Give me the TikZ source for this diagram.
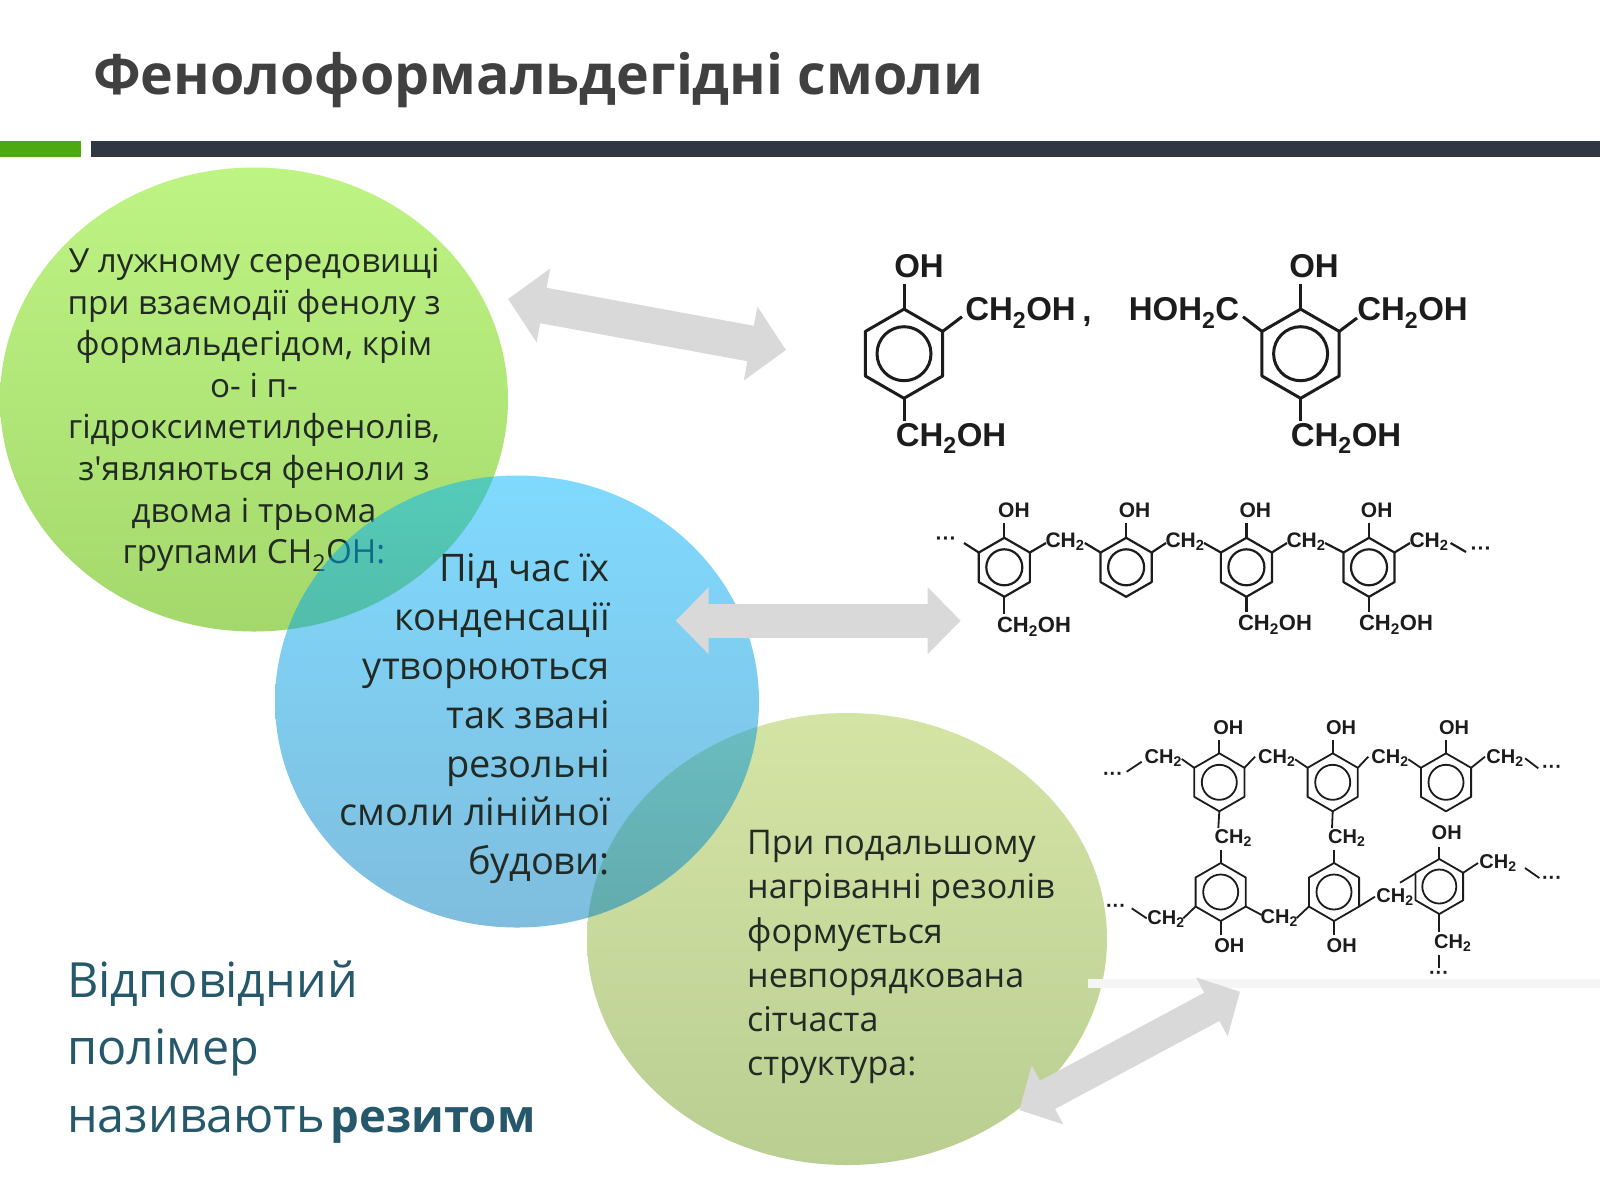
\documentclass[tikz,border=0pt]{standalone}
\usepackage{fontspec}
\setmainfont{Open Sans}
\newfontfamily\rawfont{Open Sans}
\newfontfamily\chemfont{Liberation Sans}
\usetikzlibrary{arrows.meta,shapes.geometric}
\definecolor{inkdark}{RGB}{28,28,28}
\definecolor{arrowgray}{RGB}{217,217,217}
\definecolor{titlegray}{RGB}{64,64,64}
\definecolor{teal}{RGB}{36,88,106}
\definecolor{bodyink}{RGB}{34,42,36}
\definecolor{bardark}{RGB}{48,54,66}
\definecolor{bargreen}{RGB}{78,168,18}
\newcounter{labn}
\newcommand{\chemlab}[4]{\stepcounter{labn}\node[inner sep=0pt,text=inkdark,font=\chemfont\bfseries\fontsize{#3}{#3}\selectfont] (lab\thelabn) at (#1,#2) {#4};}
\newcommand{\ringat}[4]{\begin{scope}[shift={(#1,#2)}]
\draw[line join=round] (90:#3) -- (30:#3) -- (-30:#3) -- (-90:#3) -- (-150:#3) -- (150:#3) -- cycle;
\draw (0,0) circle (#4);
\end{scope}}
\newcommand{\dhs}{CH\textsubscript{2}}
\begin{document}
\begin{tikzpicture}[x=1pt,y=-1pt,
  bigarrow/.style={draw=arrowgray,line cap=butt},
  title/.style={inner sep=0pt,anchor=west,text=titlegray,font=\bfseries\fontsize{55.5}{60}\selectfont},
  bodytext/.style={inner sep=0pt,text=bodyink}]
\useasboundingbox (0,0) rectangle (1600,1200);
\fill[white] (0,0) rectangle (1600,1200);
% title and bars
\node[title] (ttl) at (93,80) {Фенолоформальдегідні смоли};
\fill[bargreen] (0,141) rectangle (81,157);
\fill[bardark] (91,141) rectangle (1600,157);

% first circle and its text lie under the translucent blue one
\shade[top color={rgb,255:red,190;green,244;blue,132},bottom color={rgb,255:red,164;green,216;blue,108}] (254,399.5) ellipse (254 and 232);
\node[bodytext,align=center,font=\fontsize{33.2}{41.6}\selectfont] (t1) at (254,410) {У лужному середовищі\\при взаємодії фенолу з\\формальдегідом, крім\\о- і п-\\гідроксиметилфенолів,\\з{\rawfont '}являються феноли з\\двома і трьома\\групами CH\textsubscript{2}OH:};
\shade[top color={rgb,255:red,212;green,228;blue,165},bottom color={rgb,255:red,186;green,206;blue,146}] (847,939) ellipse (260 and 226);
\shade[fill opacity=.5,top color={rgb,255:red,0;green,182;blue,255},bottom color={rgb,255:red,0;green,125;blue,190}] (517,701.5) ellipse (242 and 226);
% faint scan residue below the network formula
\fill[black!4] (1088,979) rectangle (1600,988);

\node[bodytext,align=right,anchor=east,font=\fontsize{38}{48.8}\selectfont] (t2) at (610,719) {Під час їх\\конденсації\\утворюються\\так звані\\резольні\\смоли лінійної\\будови:};
\node[bodytext,align=left,anchor=west,font=\fontsize{34}{44.1}\selectfont] (t3) at (747,957) {При подальшому\\нагріванні резолів\\формується\\невпорядкована\\сітчаста\\структура:};
\node[inner sep=0pt,align=left,anchor=west,text=teal,font=\fontsize{48.5}{67.3}\selectfont] (t4) at (67,1052) {Відповідний\\полімер\\називають\hspace{-7pt} {\bfseries\fontsize{45.5}{67.3}\selectfont резитом}};

% double arrows
\coordinate (a1l) at (508,299); \coordinate (a1r) at (786,350);
\coordinate (a2l) at (675.7,620.7); \coordinate (a2r) at (960.7,620.7);
\coordinate (a3l) at (1019.3,1110); \coordinate (a3r) at (1240,991.7);
\draw[bigarrow,line width=36pt,{Triangle[width=73pt,length=36pt,fill=arrowgray]}-{Triangle[width=73pt,length=36pt,fill=arrowgray]}] (a1l) -- (a1r);
\draw[bigarrow,line width=34pt,{Triangle[width=65pt,length=33pt,fill=arrowgray]}-{Triangle[width=65pt,length=33pt,fill=arrowgray]}] (a2l) -- (a2r);
\draw[bigarrow,line width=32pt,{Triangle[width=65pt,length=32pt,fill=arrowgray]}-{Triangle[width=65pt,length=32pt,fill=arrowgray]}] (a3l) -- (a3r);

% === monomers
\begin{scope}[draw=inkdark,line width=3pt]
\ringat{904}{353.7}{44.6}{27}
\ringat{1300.6}{353.7}{44.6}{27}
\draw (904,309) -- (904,284);
\draw (942.6,331.4) -- (962,316.7);
\draw (904,398.3) -- (904,421);
\draw (1300.6,309) -- (1300.6,284);
\draw (1262,331.4) -- (1243,316.7);
\draw (1339.2,331.4) -- (1357,318);
\draw (1300.6,398.3) -- (1300.6,421);
\end{scope}
\chemlab{919}{266.6}{33}{OH}
\chemlab{1020.5}{313}{33}{\dhs OH}
\chemlab{1087}{322}{33}{,}
\chemlab{951}{438.5}{33}{\dhs OH}
\chemlab{1314}{266.6}{33}{OH}
\chemlab{1184}{313}{33}{HOH\textsubscript{2}C}
\chemlab{1412.5}{313}{33}{\dhs OH}
\chemlab{1346}{438.5}{33}{\dhs OH}

% === linear chain
\begin{scope}[draw=inkdark,line width=2.2pt]
\ringat{1004.3}{567.3}{29.5}{18}
\ringat{1126.1}{567.3}{29.5}{18}
\ringat{1246.4}{567.3}{29.5}{18}
\ringat{1369}{567.3}{29.5}{18}
\draw (1004.3,537.8) -- (1004.3,523);
\draw (1126.1,537.8) -- (1126.1,523);
\draw (1246.4,537.8) -- (1246.4,523);
\draw (1369,537.8) -- (1369,523);
\draw (964,543) -- (978.8,552.5);
\draw (1029.8,552.5) -- (1046,543);
\draw (1084.8,543) -- (1100.6,552.5);
\draw (1151.6,552.5) -- (1166,543);
\draw (1204,543) -- (1220.9,552.5);
\draw (1271.9,552.5) -- (1287,543);
\draw (1325,543) -- (1343.5,552.5);
\draw (1394.5,552.5) -- (1410,543);
\draw (1450.6,543) -- (1466,552);
\draw (1004.3,596.8) -- (1004.3,614);
\draw (1246.4,596.8) -- (1246.4,612);
\draw (1369,596.8) -- (1369,612);
\end{scope}
\chemlab{946}{541}{21}{···}
\chemlab{1481}{551}{21}{···}
\chemlab{1013.9}{510}{21}{OH}
\chemlab{1134.6}{510}{21}{OH}
\chemlab{1255.3}{510}{21}{OH}
\chemlab{1376.7}{510}{21}{OH}
\chemlab{1065}{541.7}{21}{\dhs}
\chemlab{1185}{541.7}{21}{\dhs}
\chemlab{1306}{541.7}{21}{\dhs}
\chemlab{1429}{541.7}{21}{\dhs}
\chemlab{1034}{626.7}{22}{\dhs OH}
\chemlab{1275}{625}{22}{\dhs OH}
\chemlab{1396}{625}{22}{\dhs OH}

% === network
\begin{scope}[draw=inkdark,line width=1.8pt]
\ringat{1219.3}{782.3}{29}{17.5}
\ringat{1332.7}{782.3}{29}{17.5}
\ringat{1446}{782.3}{29}{17.5}
\ringat{1220.7}{892}{29}{17.5}
\ringat{1334}{892}{29}{17.5}
\ringat{1439.3}{886.5}{27.5}{17}
% upper row
\draw (1219.3,753.3) -- (1219.3,740);
\draw (1332.7,753.3) -- (1332.7,740);
\draw (1446,753.3) -- (1446,740);
\draw (1126.7,771.7) -- (1141.7,761.7);
\draw (1181.7,759) -- (1194.2,767.8);
\draw (1244.4,767.8) -- (1255,756.7);
\draw (1295,759.3) -- (1307.6,767.8);
\draw (1357.8,767.8) -- (1368.3,756.7);
\draw (1408.3,759.3) -- (1420.9,767.8);
\draw (1471.1,767.8) -- (1485,756.7);
\draw (1525,758.3) -- (1538.3,768.3);
% links
\draw (1219.3,811.3) -- (1218.3,828);
\draw (1332.7,811.3) -- (1332,828);
\draw (1220.7,850) -- (1220.7,863);
\draw (1334,850) -- (1334,863);
% lower row
\draw (1220.7,921) -- (1220.7,935);
\draw (1334,921) -- (1334,935);
\draw (1131.7,908.3) -- (1146.7,918.3);
\draw (1183.3,918.3) -- (1195.6,906.5);
\draw (1245.8,906.5) -- (1261.7,915);
\draw (1296.7,918) -- (1308.9,906.5);
\draw (1359.1,906.5) -- (1375,896.7);
\draw (1400,882.7) -- (1415.5,873.3);
\draw (1439.3,859) -- (1439.3,846.7);
\draw (1463.1,872.8) -- (1478,863);
\draw (1525,868) -- (1539.3,878);
\draw (1439.3,914) -- (1439.3,931.7);
\draw (1439.3,955) -- (1439.3,968.3);
\end{scope}
\chemlab{1228.3}{727.3}{20}{OH}
\chemlab{1341}{727.3}{20}{OH}
\chemlab{1454}{727.3}{20}{OH}
\chemlab{1163.3}{758.3}{20}{\dhs}
\chemlab{1276.7}{758.3}{20}{\dhs}
\chemlab{1390}{758.3}{20}{\dhs}
\chemlab{1505}{758.3}{20}{\dhs}
\chemlab{1113}{776}{20}{···}
\chemlab{1552}{769}{20}{···}
\chemlab{1233.3}{838}{20}{\dhs}
\chemlab{1346.7}{838}{20}{\dhs}
\chemlab{1229.3}{946}{20}{OH}
\chemlab{1341.7}{946}{20}{OH}
\chemlab{1446.7}{832.7}{20}{OH}
\chemlab{1498}{863}{20}{\dhs}
\chemlab{1552}{880}{20}{···}
\chemlab{1452.7}{943.3}{20}{\dhs}
\chemlab{1439}{975}{20}{···}
\chemlab{1116}{908}{20}{···}
\chemlab{1166}{919}{20}{\dhs}
\chemlab{1279.3}{918.3}{20}{\dhs}
\chemlab{1395}{897}{20}{\dhs}
\end{tikzpicture}
\end{document}
